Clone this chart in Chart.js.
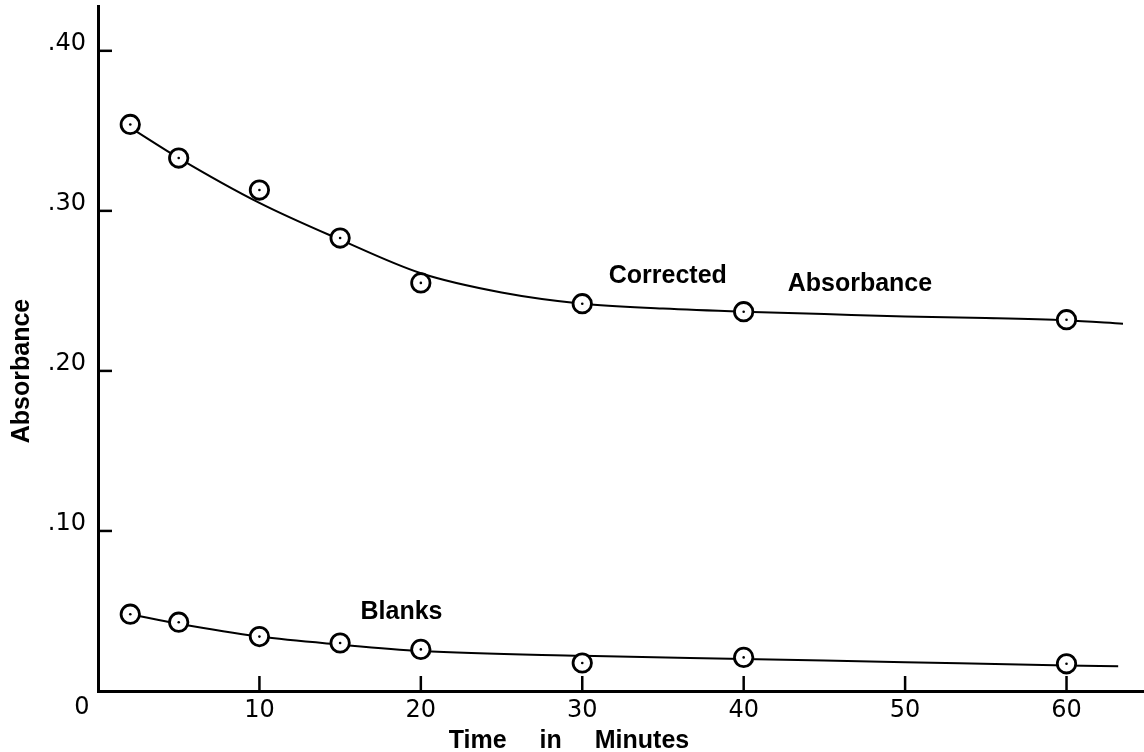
<!DOCTYPE html>
<html><head><meta charset="utf-8">
<script src="https://cdn.jsdelivr.net/npm/chart.js@4/dist/chart.umd.min.js"></script>
<style>html,body{margin:0;padding:0;background:#fff}canvas{display:block}</style>
</head><body>
<canvas id="c" width="1144" height="752"></canvas>
<script>
// ---- data ----
const minutes = [2, 5, 10, 15, 20, 30, 40, 60];
const corrected = [0.354, 0.333, 0.313, 0.283, 0.255, 0.242, 0.237, 0.232];
const blanks = [0.048, 0.043, 0.034, 0.030, 0.026, 0.0175, 0.021, 0.017];
// smooth hand-drawn fitted curves
const correctedCurveX = [2, 5, 10, 15, 20, 25, 30, 35, 40, 45, 50, 55, 60, 63.5];
const correctedCurveY = [0.352, 0.333, 0.305, 0.282, 0.261, 0.249, 0.242, 0.239, 0.237, 0.2355, 0.234, 0.233, 0.2315, 0.2295];
const blanksCurveX = [2, 5, 10, 15, 20, 30, 40, 50, 60, 63.2];
const blanksCurveY = [0.048, 0.042, 0.034, 0.029, 0.025, 0.022, 0.020, 0.018, 0.016, 0.0155];
const xTicks = [0, 10, 20, 30, 40, 50, 60];
const yTicks = [0.1, 0.2, 0.3, 0.4];
const xTitle = 'Time in Minutes';
const yTitle = 'Absorbance';
const notes = [
  {text: 'Corrected', x: 35.3, y: 0.259},
  {text: 'Absorbance', x: 47.2, y: 0.254},
  {text: 'Blanks', x: 18.8, y: 0.049}
];

const pts = (xs, ys) => xs.map((x, i) => ({x, y: ys[i]}));
const labelFont = '"Liberation Sans", Arial, sans-serif';
const tickFont = '"DejaVu Sans", sans-serif';

function drawText(ctx, txt, x, y, font, spacing, rot, wordSpacing) {
  ctx.save();
  ctx.font = font;
  ctx.fillStyle = '#000';
  ctx.textAlign = 'center';
  ctx.textBaseline = 'middle';
  if ('letterSpacing' in ctx) ctx.letterSpacing = spacing + 'px';
  if (wordSpacing && 'wordSpacing' in ctx) ctx.wordSpacing = wordSpacing + 'px';
  ctx.translate(x, y);
  if (rot) ctx.rotate(rot);
  ctx.fillText(txt, 0, 0);
  ctx.restore();
}

const inkPlugin = {
  id: 'ink',
  beforeDraw(chart) {
    const ctx = chart.ctx;
    ctx.save(); ctx.fillStyle = '#fff'; ctx.fillRect(0, 0, chart.width, chart.height); ctx.restore();
  },
  afterDraw(chart) {
    const ctx = chart.ctx, xs = chart.scales.x, ys = chart.scales.y;
    ctx.save();
    ctx.strokeStyle = '#000';
    ctx.lineWidth = 2.5;
    ctx.lineCap = 'butt';
    xTicks.filter(v => v !== 0).forEach(v => {
      const px = xs.getPixelForValue(v);
      ctx.beginPath(); ctx.moveTo(px, ys.bottom); ctx.lineTo(px, ys.bottom - 15); ctx.stroke();
    });
    yTicks.forEach(v => {
      const py = ys.getPixelForValue(v);
      ctx.beginPath(); ctx.moveTo(xs.left, py); ctx.lineTo(xs.left + 14, py); ctx.stroke();
    });
    ctx.restore();
    // origin label, set left of the corner as in the reference
    drawText(ctx, String(xTicks[0]), xs.left - 16, ys.bottom + 17, '24px ' + tickFont, 0, 0);
    notes.forEach(n => drawText(ctx, n.text, xs.getPixelForValue(n.x), ys.getPixelForValue(n.y),
      'bold 25px ' + labelFont, 0, 0));
    drawText(ctx, xTitle, 569, 741, 'bold 25px ' + labelFont, 0, 0, 26);
    drawText(ctx, yTitle, 22, 371, 'bold 25px ' + labelFont, 0, -Math.PI / 2);
  }
};

new Chart(document.getElementById('c'), {
  data: {
    datasets: [
      {type: 'line', data: pts(correctedCurveX, correctedCurveY), borderColor: '#000', borderWidth: 2,
        pointRadius: 0, tension: 0.4, cubicInterpolationMode: 'monotone', order: 5},
      {type: 'line', data: pts(blanksCurveX, blanksCurveY), borderColor: '#000', borderWidth: 2,
        pointRadius: 0, tension: 0.4, cubicInterpolationMode: 'monotone', order: 5},
      {type: 'scatter', data: pts(minutes, corrected), pointStyle: 'circle', pointRadius: 9.2,
        borderWidth: 2.8, borderColor: '#000', backgroundColor: '#fff', order: 2},
      {type: 'scatter', data: pts(minutes, blanks), pointStyle: 'circle', pointRadius: 9.2,
        borderWidth: 2.8, borderColor: '#000', backgroundColor: '#fff', order: 2},
      {type: 'scatter', data: pts(minutes, corrected), pointRadius: 1.3, borderWidth: 0,
        backgroundColor: '#000', order: 1},
      {type: 'scatter', data: pts(minutes, blanks), pointRadius: 1.3, borderWidth: 0,
        backgroundColor: '#000', order: 1}
    ]
  },
  options: {
    responsive: false,
    devicePixelRatio: 1,
    animation: false,
    events: [],
    layout: {autoPadding: false, padding: {top: 6, right: 0, bottom: 0, left: 0}},
    plugins: {legend: {display: false}, tooltip: {enabled: false}},
    scales: {
      x: {
        type: 'linear', min: 0, max: 64.8,
        afterBuildTicks: s => { s.ticks = xTicks.map(v => ({value: v})); },
        afterFit: s => { s.height = 61; s.paddingLeft = 0; s.paddingRight = 0; },
        grid: {display: false, drawTicks: false},
        border: {display: true, color: '#000', width: 3},
        ticks: {color: '#000', font: {family: tickFont, size: 24}, padding: 5, maxRotation: 0,
          callback: v => (v === 0 ? '' : String(v))}
      },
      y: {
        type: 'linear', min: 0, max: 0.428,
        afterBuildTicks: s => { s.ticks = yTicks.map(v => ({value: v})); },
        afterFit: s => { s.width = 98; s.paddingTop = 0; s.paddingBottom = 0; },
        grid: {display: false, drawTicks: false},
        border: {display: true, color: '#000', width: 3},
        ticks: {color: '#000', font: {family: tickFont, size: 24}, padding: 12, labelOffset: -7,
          callback: v => v.toFixed(2).replace(/^0/, '')}
      }
    }
  },
  plugins: [inkPlugin]
});
</script>
</body></html>
